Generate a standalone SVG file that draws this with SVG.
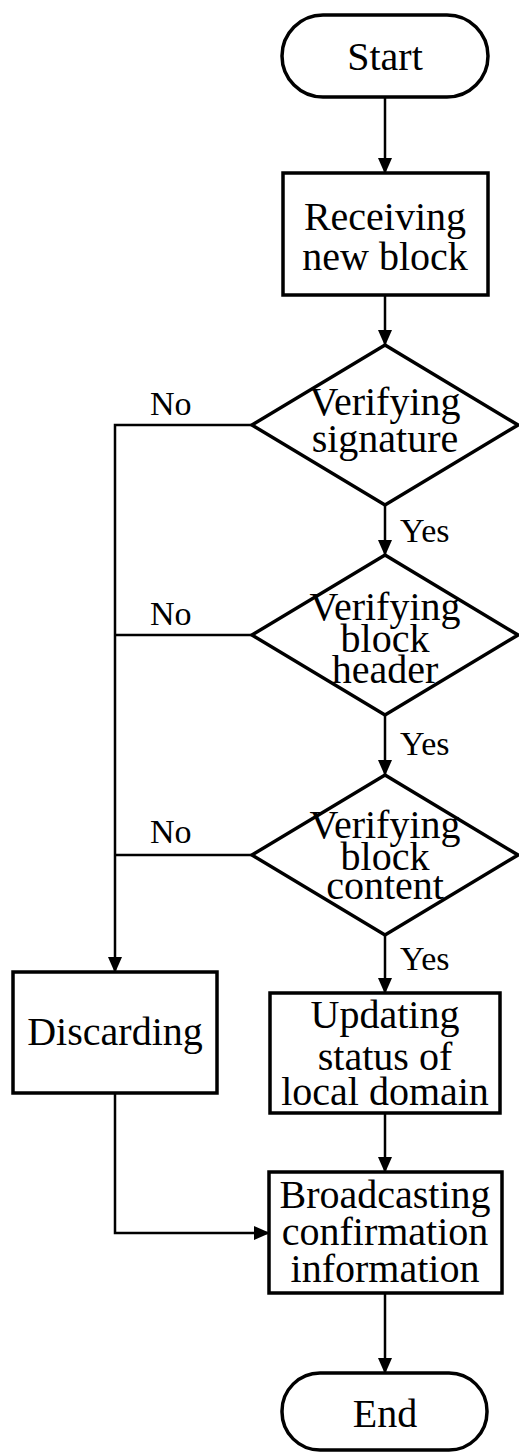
<svg xmlns="http://www.w3.org/2000/svg" width="519" height="1452" viewBox="0 0 519 1452">
<style>
.s{fill:#fff;stroke:#000;stroke-width:3.5}
.t{font-family:"Liberation Serif","Times New Roman",serif;font-size:40px;fill:#000;text-anchor:middle}
.l{font-family:"Liberation Serif","Times New Roman",serif;font-size:34px;fill:#000}
.c{fill:none;stroke:#000;stroke-width:2.5}
</style>
<defs>
<marker id="a" markerWidth="16" markerHeight="16" viewBox="0 0 16 16" refX="15" refY="8" orient="auto" markerUnits="userSpaceOnUse">
<path d="M0,1 L16,8 L0,15 Z" fill="#000"/>
</marker>
</defs>
<rect width="519" height="1452" fill="#fff"/>
<g id="connectors">
<line class="c" x1="385" y1="97" x2="385" y2="173" marker-end="url(#a)"/>
<line class="c" x1="385" y1="295" x2="385" y2="345" marker-end="url(#a)"/>
<line class="c" x1="385" y1="505" x2="385" y2="555" marker-end="url(#a)"/>
<line class="c" x1="385" y1="715" x2="385" y2="775" marker-end="url(#a)"/>
<line class="c" x1="385" y1="935" x2="385" y2="993" marker-end="url(#a)"/>
<line class="c" x1="385" y1="1113" x2="385" y2="1172" marker-end="url(#a)"/>
<line class="c" x1="385" y1="1293" x2="385" y2="1373" marker-end="url(#a)"/>
<polyline class="c" points="252,425 115,425 115,972" marker-end="url(#a)"/>
<line class="c" x1="252" y1="635" x2="115" y2="635"/>
<line class="c" x1="252" y1="855" x2="115" y2="855"/>
<polyline class="c" points="115,1093 115,1233 269,1233" marker-end="url(#a)"/>
<text class="l" x="150" y="415">No</text>
<text class="l" x="150" y="625">No</text>
<text class="l" x="150" y="843">No</text>
<text class="l" x="400" y="542">Yes</text>
<text class="l" x="400" y="755">Yes</text>
<text class="l" x="400" y="970">Yes</text>
</g>
<g id="start">
<rect class="s" x="282" y="15" width="206" height="82" rx="41"/>
<text class="t" x="385" y="70">Start</text>
</g>
<g id="receiving">
<rect class="s" x="283" y="173" width="205" height="122"/>
<text class="t" x="385" y="230">Receiving</text>
<text class="t" x="385" y="270">new block</text>
</g>
<g id="verify-signature">
<polygon class="s" points="385,345 518,425 385,505 252,425"/>
<text class="t" x="385" y="415">Verifying</text>
<text class="t" x="385" y="452">signature</text>
</g>
<g id="verify-header">
<polygon class="s" points="385,555 518,635 385,715 252,635"/>
<text class="t" x="385" y="620">Verifying</text>
<text class="t" x="385" y="652">block</text>
<text class="t" x="385" y="683">header</text>
</g>
<g id="verify-content">
<polygon class="s" points="385,775 518,855 385,935 252,855"/>
<text class="t" x="385" y="838">Verifying</text>
<text class="t" x="385" y="870">block</text>
<text class="t" x="385" y="899">content</text>
</g>
<g id="discarding">
<rect class="s" x="13" y="972" width="204" height="121"/>
<text class="t" x="115" y="1045">Discarding</text>
</g>
<g id="updating">
<rect class="s" x="270" y="993" width="230" height="120"/>
<text class="t" x="385" y="1028">Updating</text>
<text class="t" x="385" y="1070">status of</text>
<text class="t" x="385" y="1105">local domain</text>
</g>
<g id="broadcasting">
<rect class="s" x="269" y="1172" width="233" height="121"/>
<text class="t" x="385" y="1208">Broadcasting</text>
<text class="t" x="385" y="1245">confirmation</text>
<text class="t" x="385" y="1282">information</text>
</g>
<g id="end">
<rect class="s" x="282" y="1373" width="205" height="77" rx="38"/>
<text class="t" x="385" y="1427">End</text>
</g>
</svg>
